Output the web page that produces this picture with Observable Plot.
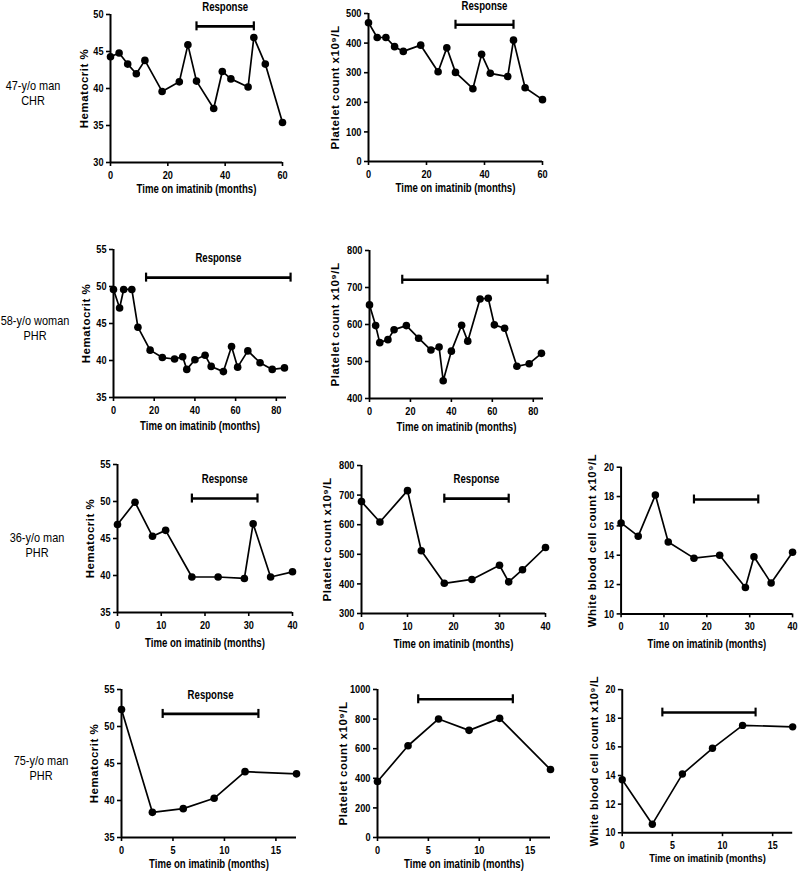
<!DOCTYPE html>
<html><head><meta charset="utf-8">
<script src="https://cdn.jsdelivr.net/npm/d3@7"></script>
<script src="https://cdn.jsdelivr.net/npm/@observablehq/plot@0.6"></script>
<style>
body{margin:0;background:#fff;}
#chart{position:relative;width:800px;height:875px;overflow:hidden;background:#fff;}
.panel{position:absolute;}
.panel svg{overflow:visible;}
.panel g[aria-label$="tick"]{stroke-width:1.6px;}
.rowlabel{position:absolute;text-align:center;font-family:"Liberation Sans",Arial,sans-serif;font-size:13px;line-height:15px;transform:translate(-50%,-50%) scaleX(0.84);white-space:nowrap;color:#000;}
</style></head>
<body><div id="chart"></div>
<script>
// ---------- data ----------
const rowLabels = [["47-y/o man","CHR"],["58-y/o woman","PHR"],["36-y/o man","PHR"],["75-y/o man","PHR"]];
const xTitle = "Time on imatinib (months)";
const hctTitle = "Hematocrit %";
const pltTitle = "Platelet count x10⁹/L";
const wbcTitle = "White blood cell count x10⁹/L";
const responseText = "Response";

// Row 1 : 47-y/o man, CHR
const months1 = [0,3,6,9,12,18,24,27,30,36,39,42,48,50,54,60];
const hct1 = [44.3,44.8,43.3,42.0,43.8,39.6,40.9,45.9,41.0,37.3,42.3,41.3,40.2,46.9,43.3,35.4];
const plt1 = [469,419,419,388,372,393,303,384,301,246,362,298,287,410,249,209];
// Row 2 : 58-y/o woman, PHR
const months2 = [0,3,5,9,12,18,24,30,34,36,40,45,48,54,58,61,66,72,78,84];
const hct2 = [49.6,47.1,49.6,49.6,44.5,41.4,40.4,40.2,40.5,38.8,40.1,40.7,39.2,38.5,41.9,39.1,41.3,39.7,38.8,39.0];
const plt2 = [653,597,551,559,586,597,563,531,539,448,528,598,555,669,671,599,590,487,494,522];
// Row 3 : 36-y/o man, PHR
const months3 = [0,4,8,11,17,23,29,31,35,40];
const months3plt = [0,4,10,13,18,24,30,32,35,40];
const hct3 = [46.9,49.9,45.3,46.1,39.8,39.8,39.6,47.0,39.8,40.5];
const plt3 = [678,609,715,512,402,415,463,407,448,523];
const wbc3 = [16.2,15.3,18.1,14.9,13.8,14.0,11.8,13.9,12.1,14.2];
// Row 4 : 75-y/o man, PHR
const months4 = [0,3,6,9,12,17];
const hct4 = [52.3,38.4,38.9,40.3,43.9,43.6];
const plt4 = [378,620,801,724,805,459];
const wbc4 = [13.7,10.6,14.1,15.9,17.5,17.4];

// response periods (months) and the value level the bar is drawn at
const respStart = [30,30, 16,16, 17,18,17, 4,4,4];
const respEnd   = [50,50, 87,87, 32,32,32, 13.3,13.3,13.3];
const respLevel = [48.4,462, 51.2,721, 50.4,688,17.8, 51.7,934,18.4];
const respLabelShown = [true,true, true,false, true,true,false, true,false,false];

// axis domains / ticks
const xDomains = [[0,60],[0,60],[0,85],[0,85],[0,40],[0,40],[0,40],[0,17],[0,17],[0,17]];
const xTicks = [[0,20,40,60],[0,20,40,60],[0,20,40,60,80],[0,20,40,60,80],[0,10,20,30,40],[0,10,20,30,40],[0,10,20,30,40],[0,5,10,15],[0,5,10,15],[0,5,10,15]];
const yDomains = [[30,50],[0,500],[35,55],[400,800],[35,55],[300,800],[10,20],[35,55],[0,1000],[10,20]];
const yTicks = [[30,35,40,45,50],[0,100,200,300,400,500],[35,40,45,50,55],[400,500,600,700,800],[35,40,45,50,55],[300,400,500,600,700,800],[10,12,14,16,18,20],[35,40,45,50,55],[0,200,400,600,800,1000],[10,12,14,16,18,20]];
const panelMonths = [months1,months1,months2,months2,months3,months3plt,months3,months4,months4,months4];
const panelValues = [hct1,plt1,hct2,plt2,hct3,plt3,wbc3,hct4,plt4,wbc4];
const panelTitles = [hctTitle,pltTitle,hctTitle,pltTitle,hctTitle,pltTitle,wbcTitle,hctTitle,pltTitle,wbcTitle];

// ---------- layout (pixel positions of each plotting area) ----------
const layout = [
  {left:110,top:14,w:172,h:148,lo:26,to:30},
  {left:368,top:13,w:174,h:148,lo:33,to:30},
  {left:113,top:249,w:173,h:148,lo:27,to:32},
  {left:369,top:250,w:174,h:148,lo:34,to:32},
  {left:117,top:464,w:175,h:148,lo:27,to:34},
  {left:361,top:465,w:184,h:148,lo:34,to:34},
  {left:621,top:467,w:173,h:148,lo:29,to:34},
  {left:121,top:689,w:175,h:148,lo:27,to:30},
  {left:377,top:689,w:173,h:148,lo:34,to:30},
  {left:623,top:690,w:175,h:147,lo:29,to:30}
];
const rowLabelPos = [{x:33,y:93},{x:35,y:328},{x:37,y:545},{x:41,y:768}];

const FONT = '"Liberation Sans",Arial,sans-serif';
const NARROW = 0.8;
const chart = document.getElementById("chart");
const ML = 48, MR = 8, MT = 34, MB = 44;

layout.forEach((L, i) => {
  const data = panelMonths[i].map((m, j) => ({m, v: panelValues[i][j]}));
  const [x0, x1] = xDomains[i];
  const [y0, y1] = yDomains[i];
  const cap = 4.5 * (y1 - y0) / L.h;
  const resp = [{s: respStart[i], e: respEnd[i], lvl: respLevel[i], mid: (respStart[i] + respEnd[i]) / 2}];
  const marks = [
    Plot.ruleY([y0], {x1: x0, x2: x1, stroke: "black", strokeWidth: 2}),
    Plot.ruleX([x0], {y1: y0, y2: y1, stroke: "black", strokeWidth: 2}),
    Plot.line(data, {x: "m", y: "v", stroke: "black", strokeWidth: 1.7}),
    Plot.dot(data, {x: "m", y: "v", r: 3.8, fill: "black", stroke: "none"}),
    Plot.ruleY(resp, {y: "lvl", x1: "s", x2: "e", stroke: "black", strokeWidth: 2.6}),
    Plot.ruleX(resp, {x: "s", y1: d => d.lvl - cap, y2: d => d.lvl + cap, stroke: "black", strokeWidth: 2.2}),
    Plot.ruleX(resp, {x: "e", y1: d => d.lvl - cap, y2: d => d.lvl + cap, stroke: "black", strokeWidth: 2.2}),
    Plot.text([xTitle], {frameAnchor: "bottom", dy: L.to, textAnchor: "middle", fontSize: 12, fontWeight: "bold", fill: "black"}),
    Plot.text([panelTitles[i]], {frameAnchor: "left", dx: -L.lo, rotate: -90, textAnchor: "middle", lineAnchor: "middle", fontSize: 11.5, fontWeight: "bold", fill: "black"})
  ];
  if (respLabelShown[i]) {
    marks.push(Plot.text(resp, {x: "mid", y: "lvl", text: () => responseText, dy: -19, fontSize: 12, fontWeight: "bold", fill: "black"}));
  }
  const plot = Plot.plot({
    width: ML + L.w + MR,
    height: MT + L.h + MB,
    marginLeft: ML, marginRight: MR, marginTop: MT, marginBottom: MB,
    style: {fontFamily: FONT, fontSize: "11.5px", fontWeight: "bold", color: "black", background: "transparent", overflow: "visible"},
    x: {domain: [x0, x1], range: [ML, ML + L.w], ticks: xTicks[i], tickSize: 4, tickPadding: 4, tickFormat: d => String(d), label: null},
    y: {domain: [y0, y1], range: [MT + L.h, MT], ticks: yTicks[i], tickSize: 4, tickPadding: 3, tickFormat: d => String(d), label: null},
    marks
  });
  const wrap = document.createElement("div");
  wrap.className = "panel";
  wrap.style.left = (L.left - ML) + "px";
  wrap.style.top = (L.top - MT) + "px";
  wrap.appendChild(plot);
  chart.appendChild(wrap);
  // condensed look of the original's narrow bold face (all texts but the rotated y title)
  plot.querySelectorAll("text").forEach(t => {
    if ((t.getAttribute("transform") || "").includes("rotate")) {
      t.setAttribute("letter-spacing", "0.5");
      return;
    }
    const len = t.getComputedTextLength();
    if (len > 0) {
      t.setAttribute("textLength", (len * NARROW).toFixed(1));
      t.setAttribute("lengthAdjust", "spacingAndGlyphs");
    }
  });
});

rowLabels.forEach((lines, i) => {
  const d = document.createElement("div");
  d.className = "rowlabel";
  d.style.left = rowLabelPos[i].x + "px";
  d.style.top = rowLabelPos[i].y + "px";
  d.innerHTML = lines.join("<br>");
  chart.appendChild(d);
});
</script></body></html>
